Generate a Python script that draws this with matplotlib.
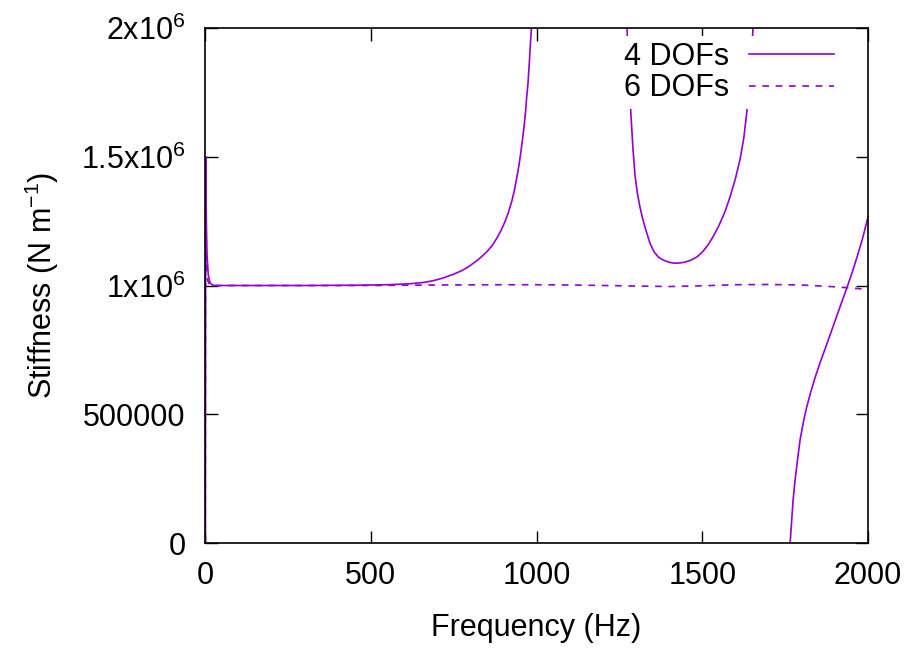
import numpy as np
import matplotlib
matplotlib.use("Agg")
import matplotlib.pyplot as plt

plt.rcParams['font.family'] = ['Liberation Sans', 'DejaVu Sans']
plt.rcParams['mathtext.fontset'] = 'custom'
plt.rcParams['mathtext.rm'] = 'Liberation Sans'
plt.rcParams['mathtext.default'] = 'regular'

nan = float('nan')

# 4 DOFs model (nan = gap across the pole)
freq_4dof = [0, 2, 4, 6, 10, 15, 25, 100, 300, 450, 550, 620, 660, 690, 720,
             750, 775, 795, 812, 830, 850, 866, 880, 893, 905, 915, 925, 933,
             940, 947, 953, 958, 963, 967, 970, 974, 976.5, 979, 981.3, 984.3,
             988, 995,
             1268, 1273, 1276, 1280, 1285, 1291, 1297, 1304, 1312, 1320, 1330,
             1342, 1355, 1368, 1382, 1400, 1415, 1427, 1445, 1465, 1484, 1500,
             1516, 1532, 1550, 1568, 1584, 1600, 1614, 1625, 1635, 1642, 1648,
             1653, 1658, 1663,
             1700,
             1758, 1762, 1765, 1769, 1774, 1780, 1787, 1795, 1805, 1815, 1828,
             1841, 1855, 1875, 1894, 1915, 1937, 1952, 1967, 1984, 2000]
k_4dof = [-2.0e6, 1.5e6, 1.25e6, 1.12e6, 1.04e6, 1.01e6, 1.0e6, 1.0e6, 1.0e6,
          1.001e6, 1.003e6, 1.007e6, 1.012e6, 1.019e6, 1.030e6,
          1.044e6, 1.058e6, 1.073e6, 1.089e6, 1.107e6, 1.131e6, 1.155e6,
          1.183e6, 1.214e6, 1.248e6, 1.283e6, 1.325e6, 1.368e6,
          1.416e6, 1.466e6, 1.52e6, 1.57e6, 1.623e6, 1.675e6, 1.727e6, 1.78e6,
          1.83e6, 1.88e6, 1.934e6, 1.992e6,
          2.08e6, 2.3e6,
          2.3e6, 2.0e6, 1.90e6, 1.78e6, 1.66e6, 1.53e6, 1.43e6, 1.36e6,
          1.305e6, 1.26e6, 1.215e6,
          1.165e6, 1.13e6, 1.11e6, 1.099e6, 1.09e6, 1.087e6, 1.087e6, 1.09e6,
          1.098e6, 1.111e6, 1.13e6,
          1.155e6, 1.188e6, 1.232e6, 1.285e6, 1.345e6, 1.415e6, 1.49e6, 1.57e6,
          1.681e6, 1.77e6, 1.87e6,
          2.0e6, 2.15e6, 2.3e6,
          nan,
          -0.15e6, -0.06e6, 0.0, 0.075e6, 0.167e6, 0.245e6, 0.32e6, 0.40e6,
          0.47e6, 0.528e6, 0.59e6,
          0.645e6, 0.699e6, 0.77e6, 0.839e6, 0.915e6, 0.994e6, 1.05e6,
          1.111e6, 1.185e6, 1.266e6]

# 6 DOFs model
freq_6dof = [0, 1.5, 4, 8, 15, 100, 300, 500, 700, 900, 1000, 1100, 1200, 1300,
             1400, 1500, 1600, 1700, 1800, 1900, 2000]
k_6dof = [-2.0e6, 1.5e6, 1.1e6, 1.02e6, 1.0e6, 1.0e6, 1.0e6, 1.0e6, 1.002e6,
          1.003e6, 1.003e6, 1.002e6, 1.0e6, 0.998e6, 0.996e6, 0.999e6, 1.003e6,
          1.004e6, 1.002e6, 0.995e6, 0.985e6]

x_ticks = [0, 500, 1000, 1500, 2000]
y_ticks = [0, 500000, 1e6, 1.5e6, 2e6]
y_labels = ['0', '500000', r'1x10$^{6}$', r'1.5x10$^{6}$', r'2x10$^{6}$']

color = '#9400d3'
fs = 22

fig = plt.figure(figsize=(9.14, 6.48), dpi=100)
ax = fig.add_axes([0.2243, 0.162, 0.7254, 0.7948])

ax.plot(freq_4dof, k_4dof, color=color, lw=1.2, label='4 DOFs')
ax.plot(freq_6dof, k_6dof, color=color, lw=1.2, dashes=(4, 4), label='6 DOFs')

ax.set_xlim(0, 2000)
ax.set_ylim(0, 2e6)
ax.set_xticks(x_ticks)
ax.set_yticks(y_ticks)
ax.set_yticklabels(y_labels)

ax.tick_params(direction='in', length=9, width=1, top=True, right=True,
               labelsize=fs, pad=14)
ax.tick_params(axis='x', pad=13)
for s in ax.spines.values():
    s.set_linewidth(1.2)

ax.set_xlabel('Frequency (Hz)', fontsize=fs, labelpad=16)
ax.set_ylabel(r'Stiffness (N m$^{-1}$)', fontsize=fs, labelpad=14)

leg = ax.legend(loc='upper right', bbox_to_anchor=(0.958, 0.985), fontsize=fs,
                markerfirst=False, handlelength=2.8, handletextpad=0.65,
                labelspacing=0.05, borderpad=0.2, frameon=True, fancybox=False,
                framealpha=1.0, edgecolor='none', borderaxespad=0)

fig.savefig('out.png', dpi=100)
